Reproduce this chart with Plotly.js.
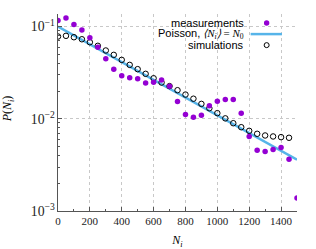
<!DOCTYPE html>
<html>
<head>
<meta charset="utf-8">
<script src="https://cdn.plot.ly/plotly-3.0.1.min.js"></script>
<style>html,body{margin:0;padding:0;background:#fff;}#chart{width:316px;height:249px;}</style>
</head>
<body>
<div id="chart"></div>
<script>
// ---- data ----
const measN = [0,50,100,150,200,250,300,350,400,450,500,550,600,650,700,750,800,850,900,950,1000,1050,1100,1150,1200,1250,1300,1350,1400,1450,1500];
const measP = [0.116,0.124,0.105,0.092,0.0755,0.0597,0.0447,0.0345,0.0292,0.0278,0.0271,0.0245,0.0249,0.0264,0.0225,0.0154,0.0111,0.0104,0.0109,0.0138,0.0155,0.0162,0.0162,0.0115,0.00643,0.00457,0.00442,0.00465,0.00489,0.00365,0.00138];
const simN = [0,50,100,150,200,250,300,350,400,450,500,550,600,650,700,750,800,850,900,950,1000,1050,1100,1150,1200,1250,1300,1350,1400,1450];
const simP = [0.078,0.0793,0.0766,0.0728,0.0676,0.0618,0.055,0.0493,0.0435,0.0384,0.0345,0.0307,0.0275,0.0247,0.0226,0.0204,0.0183,0.0165,0.0145,0.013,0.0115,0.0101,0.00895,0.0081,0.0074,0.00687,0.00659,0.00643,0.00632,0.00622];
const poissonN = [0,1500];
const poissonP = [0.1,0.0036];
const xTicks = [0,200,400,600,800,1000,1200,1400];
const legendLabels = ["measurements", "Poisson, <span style=\"font-family:'Liberation Serif',serif\"><i>⟨N<sub>i</sub>⟩</i> = <i>N</i><sub>0</sub></span>", "simulations"];
const yTitle = '<i>P</i>(<i>N<sub>i</sub></i>)';
const xTitle = '<i>N<sub>i</sub></i>';

const purple = '#9400d3', blue = '#56b4e9';
const serif = "'Liberation Serif', 'DejaVu Serif', serif";
const sans = "'Liberation Sans', Arial, sans-serif";

const traces = [
  {x: poissonN, y: poissonP, mode: 'lines', name: 'Poisson', line: {color: blue, width: 2.5}, hoverinfo: 'skip'},
  {x: simN, y: simP, mode: 'markers', name: 'simulations', marker: {symbol: 'circle-open', size: 5.5, color: '#000', line: {width: 1, color: '#000'}}},
  {x: measN, y: measP, mode: 'markers', name: 'measurements', marker: {symbol: 'circle', size: 5.5, color: purple}}
];

// legend layout (paper coords)
const rowsY = [0.954, 0.898, 0.842];
const textX = 0.785, keyX0 = 0.806, keyX1 = 0.937, keyXc = 0.873;

const annotations = legendLabels.map((t, i) => ({
  xref: 'paper', yref: 'paper', x: textX, y: rowsY[i], xanchor: 'right', yanchor: 'middle',
  text: t, showarrow: false, font: {family: sans, size: 11, color: '#000'}
}));
annotations.push({
  xref: 'paper', yref: 'paper', x: -0.21, y: 0.52, xanchor: 'center', yanchor: 'middle',
  textangle: -90, text: yTitle, showarrow: false, font: {family: serif, size: 12, color: '#000'}
});

const shapes = [
  {type: 'circle', xref: 'paper', yref: 'paper', xsizemode: 'pixel', ysizemode: 'pixel',
   xanchor: keyXc, yanchor: rowsY[0], x0: -2.7, x1: 2.7, y0: -2.7, y1: 2.7,
   fillcolor: purple, line: {width: 0}},
  {type: 'line', xref: 'paper', yref: 'paper', x0: keyX0, x1: keyX1, y0: rowsY[1], y1: rowsY[1],
   line: {color: blue, width: 2.5}},
  {type: 'circle', xref: 'paper', yref: 'paper', xsizemode: 'pixel', ysizemode: 'pixel',
   xanchor: keyXc, yanchor: rowsY[2], x0: -2.5, x1: 2.5, y0: -2.5, y1: 2.5,
   fillcolor: 'rgba(0,0,0,0)', line: {color: '#000', width: 1}}
];

const layout = {
  width: 316, height: 249,
  margin: {l: 58, r: 19, t: 14, b: 38, pad: 0},
  paper_bgcolor: '#fff', plot_bgcolor: '#fff',
  showlegend: false,
  font: {family: serif, size: 11, color: '#000'},
  xaxis: {
    range: [0, 1500], tickvals: xTicks, ticks: 'inside', ticklen: 4, tickcolor: '#555',
    showline: true, linecolor: '#555', linewidth: 1, mirror: false,
    showgrid: true, gridcolor: '#c8c8c8', griddash: 'dot', gridwidth: 1,
    zeroline: false,
    minor: {dtick: 100, tick0: 0, ticks: 'inside', ticklen: 2, tickcolor: '#555', showgrid: false},
    tickfont: {family: serif, size: 11, color: '#222'},
    title: {text: xTitle, font: {family: serif, size: 12}, standoff: 9}
  },
  yaxis: {
    type: 'log', range: [-3, -0.864], dtick: 1, tick0: 0, exponentformat: 'power',
    ticks: 'inside', ticklen: 4, tickcolor: '#555',
    showline: true, linecolor: '#555', linewidth: 1, mirror: false,
    showgrid: true, gridcolor: '#c8c8c8', griddash: 'dot', gridwidth: 1,
    zeroline: false,
    minor: {dtick: 'D1', ticks: 'inside', ticklen: 2, tickcolor: '#555', showgrid: false},
    tickfont: {family: serif, size: 11, color: '#222'}
  },
  annotations: annotations,
  shapes: shapes
};

Plotly.newPlot('chart', traces, layout, {staticPlot: true, displayModeBar: false});
</script>
</body>
</html>
